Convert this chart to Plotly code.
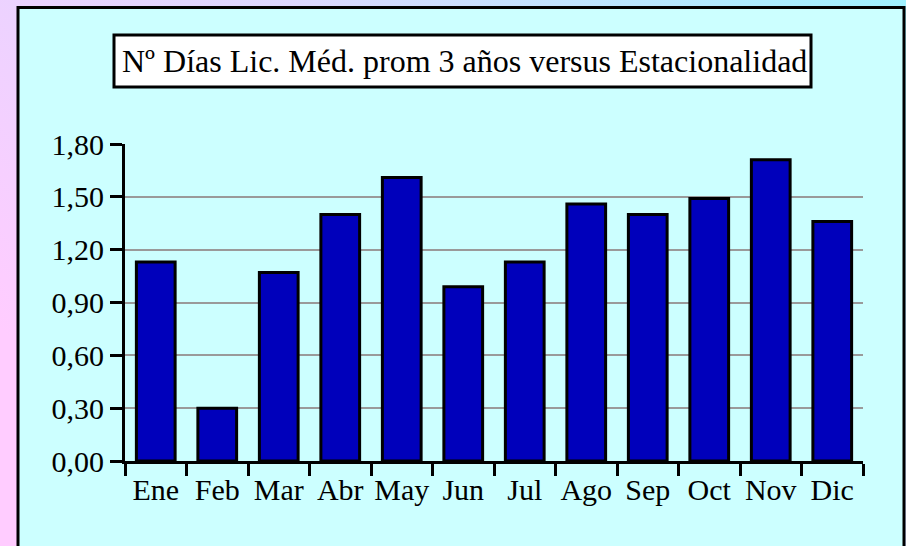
import base64
import plotly.graph_objects as go

months = ["Ene", "Feb", "Mar", "Abr", "May", "Jun", "Jul", "Ago", "Sep", "Oct", "Nov", "Dic"]
dias = [1.13, 0.30, 1.07, 1.40, 1.61, 0.99, 1.13, 1.46, 1.40, 1.49, 1.71, 1.36]
y_ticks = [0.0, 0.3, 0.6, 0.9, 1.2, 1.5, 1.8]
title_text = "Nº Días Lic. Méd. prom 3 años versus Estacionalidad"

W, H = 906, 546
ML, MT = 125, 144
MR, MB = W - 863, H - 461
PW, PH = W - ML - MR, H - MT - MB


def px(sx):
    return (sx - ML) / PW


def py(sy):
    return (H - MB - sy) / PH


FONT = "Liberation Serif"

# background gradient (pink -> light cyan), as an inline SVG image
svg = (
    '<svg xmlns="http://www.w3.org/2000/svg" width="906" height="546" preserveAspectRatio="none">'
    '<defs><linearGradient id="g" x1="0" y1="0.6" x2="1" y2="0">'
    '<stop offset="0" stop-color="#FFCCFF"/>'
    '<stop offset="0.5" stop-color="#DCD8FF"/>'
    '<stop offset="1" stop-color="#A0F2FF"/>'
    '</linearGradient></defs>'
    '<rect width="906" height="546" fill="url(#g)"/></svg>'
)
bg_src = "data:image/svg+xml;base64," + base64.b64encode(svg.encode()).decode()

fig = go.Figure(
    go.Bar(
        x=months,
        y=dias,
        marker=dict(color="#0000BB", line=dict(color="black", width=3)),
        hoverinfo="x+y",
    )
)

fig.update_layout(
    template="none",
    width=W,
    height=H,
    autosize=False,
    margin=dict(l=ML, r=MR, t=MT, b=MB, pad=0, autoexpand=False),
    paper_bgcolor="#F2CFFA",
    plot_bgcolor="rgba(0,0,0,0)",
    bargap=0.37,
    showlegend=False,
    separators=",.",
    font=dict(family=FONT, size=30, color="black"),
    images=[
        dict(source=bg_src, xref="paper", yref="paper", layer="below",
             x=-ML / PW, y=1 + MT / PH, sizex=W / PW, sizey=H / PH,
             xanchor="left", yanchor="top", sizing="stretch"),
    ],
    shapes=[
        dict(type="rect", xref="paper", yref="paper", layer="below",
             x0=px(18), x1=px(904), y0=py(620), y1=py(7.5),
             fillcolor="#CCFFFF", line=dict(color="black", width=3)),
        dict(type="rect", xref="paper", yref="paper", layer="below",
             x0=px(114), x1=px(811), y0=py(87), y1=py(35),
             fillcolor="white", line=dict(color="black", width=3)),
    ],
    annotations=[
        dict(text=title_text, xref="paper", yref="paper",
             x=px(464), y=py(61), xanchor="center", yanchor="middle",
             showarrow=False, font=dict(family=FONT, size=32, color="black")),
    ],
)

fig.update_xaxes(
    type="category",
    automargin=False,
    tickangle=0,
    showline=True, linecolor="black", linewidth=3,
    ticks="outside", tickson="boundaries", ticklen=12, tickwidth=3, tickcolor="black",
    showgrid=False,
    tickfont=dict(family=FONT, size=30, color="black"),
)
fig.update_yaxes(
    automargin=False,
    range=[0, 1.8],
    tickvals=y_ticks,
    tickformat=".2f",
    showline=True, linecolor="black", linewidth=3,
    ticks="outside", ticklen=12, tickwidth=3, tickcolor="black",
    showgrid=True, gridcolor="#9A9A9A", gridwidth=2,
    zeroline=False,
    tickfont=dict(family=FONT, size=30, color="black"),
)

fig.write_html(
    "out.html",
    config={"displayModeBar": False},
    post_script="document.body.style.margin='0';",
)
